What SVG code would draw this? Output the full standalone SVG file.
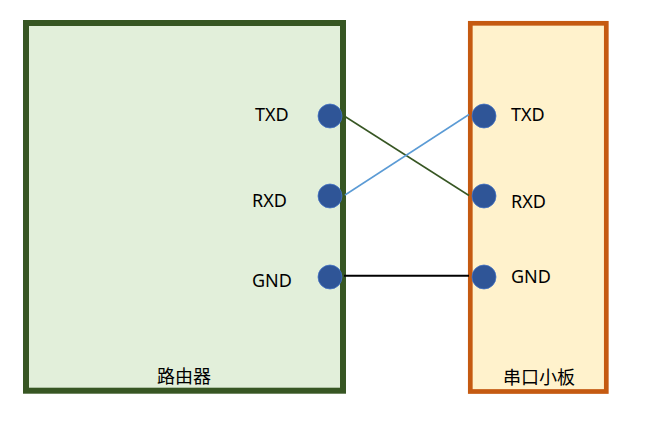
<svg xmlns="http://www.w3.org/2000/svg" width="660" height="422" viewBox="0 0 660 422">
<style>
.lbl{font-family:"Noto Sans","Liberation Sans",sans-serif;font-size:18px;fill:#000}
.cjk{font-family:"Noto Sans CJK SC",sans-serif;font-size:18px;fill:#000;text-anchor:middle}
.dot{fill:#2F5597;stroke:#4472C4;stroke-width:0.8}
</style>
<rect width="660" height="422" fill="#fff"/>
<g id="router">
<rect x="26" y="23" width="317" height="367.7" fill="#E2EFDA" stroke="#375623" stroke-width="6"/>
<text class="cjk" x="184" y="383">路由器</text>
<text class="lbl" x="255" y="120.5">TXD</text>
<text class="lbl" x="252" y="206.5">RXD</text>
<text class="lbl" x="252" y="286.5">GND</text>
<circle class="dot" cx="330" cy="116" r="12"/>
<circle class="dot" cx="330" cy="196" r="12"/>
<circle class="dot" cx="330" cy="277" r="12"/>
</g>
<g id="serial-board">
<rect x="470.3" y="23.3" width="136" height="368.2" fill="#FFF2CC" stroke="#C55A11" stroke-width="4.7"/>
<text class="cjk" x="539" y="384">串口小板</text>
<text class="lbl" x="511" y="120.5">TXD</text>
<text class="lbl" x="511" y="207.5">RXD</text>
<text class="lbl" x="511" y="282.5">GND</text>
<circle class="dot" cx="484" cy="116" r="12"/>
<circle class="dot" cx="484" cy="196" r="12"/>
<circle class="dot" cx="484" cy="277" r="12"/>
</g>
<g id="connectors" fill="none">
<line x1="345" y1="116.5" x2="469" y2="195.5" stroke="#375623" stroke-width="1.5"/>
<line x1="345" y1="195" x2="469" y2="114.5" stroke="#5B9BD5" stroke-width="1.5"/>
<line x1="344" y1="275.7" x2="469" y2="275.7" stroke="#000" stroke-width="2"/>
</g>
</svg>
